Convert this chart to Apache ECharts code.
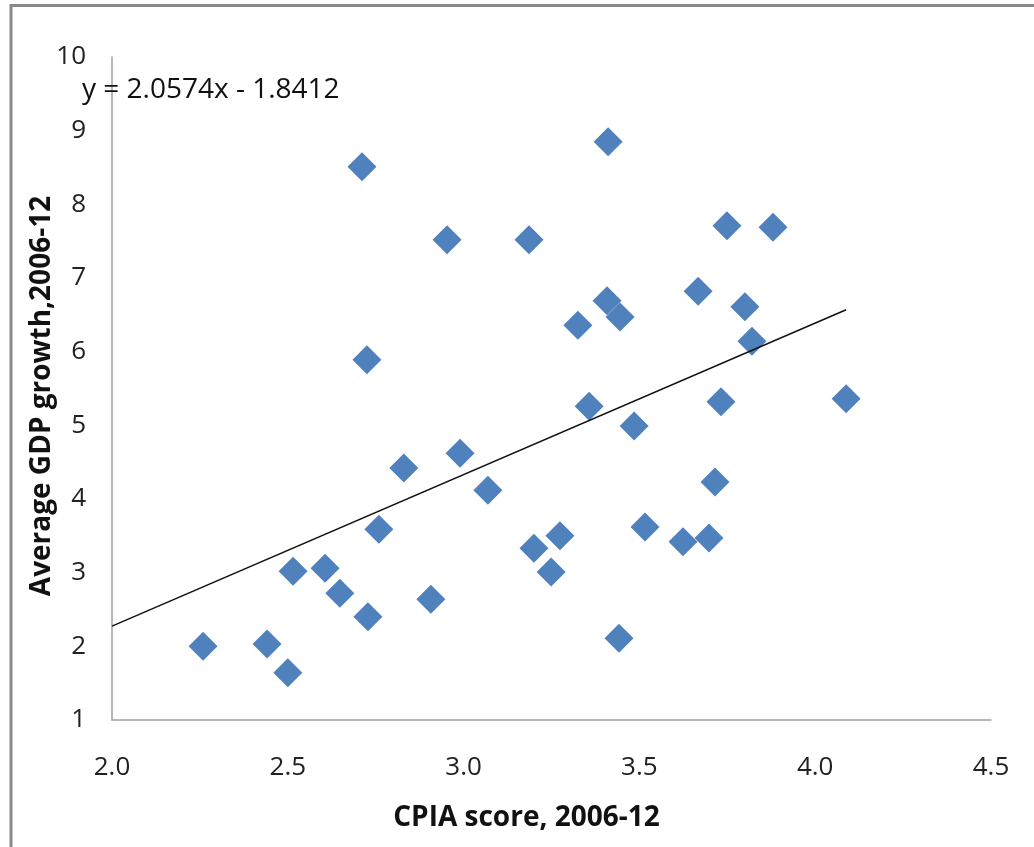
<!DOCTYPE html>
<html>
<head>
<meta charset="utf-8">
<script src="https://cdn.jsdelivr.net/npm/echarts@6/dist/echarts.min.js"></script>
<style>html,body{margin:0;padding:0;background:#fff;}#chart{width:1034px;height:847px;}</style>
</head>
<body>
<div id="chart"></div>
<script>
const cpiaScore = [2.259, 2.441, 2.500, 2.515, 2.606, 2.648, 2.728, 2.711, 2.725, 2.759, 2.830, 2.907, 2.953, 2.990, 3.069, 3.186, 3.200, 3.249, 3.274, 3.325, 3.357, 3.411, 3.408, 3.445, 3.442, 3.485, 3.516, 3.624, 3.667, 3.698, 3.715, 3.732, 3.749, 3.800, 3.820, 3.880, 4.088];
const gdpGrowth = [2.00, 2.03, 1.64, 3.02, 3.06, 2.72, 2.40, 8.51, 5.89, 3.59, 4.42, 2.64, 7.52, 4.62, 4.12, 7.52, 3.33, 3.01, 3.50, 6.36, 5.26, 8.85, 6.69, 6.47, 2.11, 4.99, 3.62, 3.42, 6.82, 3.47, 4.23, 5.32, 7.71, 6.61, 6.14, 7.69, 5.36];
const trendSlope = 2.0574;
const trendIntercept = -1.8412;
const trendLabel = 'y = 2.0574x - 1.8412';
const xTitle = 'CPIA score, 2006-12';
const yTitle = 'Average GDP growth,2006-12';

const points = cpiaScore.map((x, i) => [x, gdpGrowth[i]]);
const xStart = 2.0;
const xEnd = Math.max(...cpiaScore);
const trend = [[xStart, trendSlope * xStart + trendIntercept], [xEnd, trendSlope * xEnd + trendIntercept]];

const font = '"Open Sans", "Noto Sans", sans-serif';
const chart = echarts.init(document.getElementById('chart'));
chart.setOption({
  animation: false,
  backgroundColor: '#fff',
  grid: { left: 112, top: 57, right: 43, bottom: 127, containLabel: false },
  graphic: [
    { type: 'rect', shape: { x: 11, y: 5.5, width: 1200, height: 1000 }, style: { fill: 'none', stroke: '#8a8a8a', lineWidth: 3 }, silent: true },
    { type: 'text', left: 82, top: 76, style: { text: trendLabel, font: '28px ' + font, fill: '#111' }, z: 10 }
  ],
  xAxis: {
    type: 'value', min: 2, max: 4.5, interval: 0.5,
    name: xTitle, nameLocation: 'middle', nameGap: 84, nameMoveOverlap: false,
    nameTextStyle: { fontFamily: font, fontSize: 28, fontWeight: 'bold', color: '#111', padding: [0, 50, 0, 0] },
    axisLine: { show: true, lineStyle: { color: '#a0a0a0', width: 1.5 } },
    axisTick: { show: false },
    splitLine: { show: false },
    axisLabel: { fontFamily: font, fontSize: 26, color: '#222', margin: 35, formatter: v => v.toFixed(1) }
  },
  yAxis: {
    type: 'value', min: 1, max: 10, interval: 1,
    name: yTitle, nameLocation: 'middle', nameGap: 56, nameRotate: 90, nameMoveOverlap: false,
    nameTextStyle: { fontFamily: font, fontSize: 28, fontWeight: 'bold', color: '#111', padding: [0, 15, 0, 0] },
    axisLine: { show: true, lineStyle: { color: '#a0a0a0', width: 1.5 } },
    axisTick: { show: false },
    splitLine: { show: false },
    axisLabel: { fontFamily: font, fontSize: 26, color: '#222', margin: 26 }
  },
  series: [
    {
      type: 'line', data: trend, symbol: 'none', silent: true,
      lineStyle: { color: '#111', width: 1.5 }, z: 3
    },
    {
      type: 'scatter', data: points, symbol: 'diamond', symbolSize: 29,
      itemStyle: { color: '#4F81BD', opacity: 1 }, z: 2
    }
  ]
});
</script>
</body>
</html>
